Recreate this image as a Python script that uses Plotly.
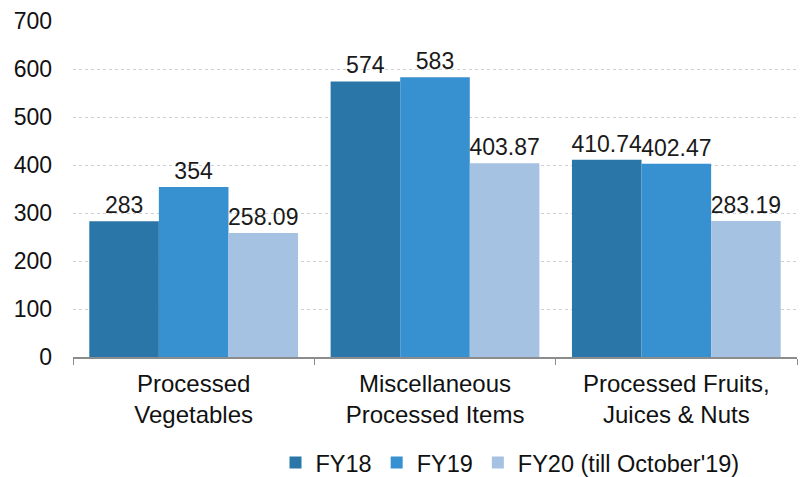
import plotly.graph_objects as go

categories = ["Processed<br>Vegetables", "Miscellaneous<br>Processed Items", "Processed Fruits,<br>Juices & Nuts"]
fy18 = [283, 574, 410.74]
fy19 = [354, 583, 402.47]
fy20 = [258.09, 403.87, 283.19]
labels18 = ["283", "574", "410.74"]
labels19 = ["354", "583", "402.47"]
labels20 = ["258.09", "403.87", "283.19"]
series_names = ["FY18", "FY19", "FY20 (till October'19)"]
colors = ["#2B76A9", "#3791D1", "#A6C2E2"]

FONT = "Liberation Sans, Arial, sans-serif"

fig = go.Figure()
for name, vals, labs, col in zip(series_names, [fy18, fy19, fy20], [labels18, labels19, labels20], colors):
    fig.add_trace(go.Bar(
        x=categories, y=vals, name=name, marker_color=col, marker_line_width=0,
        text=labs, textposition="outside", cliponaxis=False, constraintext="none",
        textfont=dict(size=23, color="#1A1A1A", family=FONT),
    ))

fig.update_layout(
    width=800, height=477,
    margin=dict(l=73, r=3, t=21, b=120, autoexpand=False),
    barmode="group", bargap=0.135, bargroupgap=0,
    plot_bgcolor="white", paper_bgcolor="white",
    font=dict(family=FONT, size=22, color="#111111"),
    showlegend=True,
    legend=dict(orientation="h", xref="container", yref="container",
                x=0.6375, xanchor="center", y=0.03, yanchor="middle",
                font=dict(size=23.5), itemwidth=30, traceorder="normal"),
)
fig.update_yaxes(range=[0, 700], dtick=100, showgrid=True, gridcolor="#D0D0D0", griddash="dot",
                 gridwidth=1, zeroline=False, showline=False, ticks="", ticklabelstandoff=20,
                 tickfont=dict(size=23), automargin=False)
fig.update_xaxes(showline=True, linecolor="#8C8C8C", linewidth=1.5, ticks="outside",
                 tickson="boundaries", ticklen=6, tickcolor="#8C8C8C", tickfont=dict(size=24),
                 ticklabelstandoff=4, automargin=False)

fig.write_html("out.html", config={"displayModeBar": False},
               post_script="document.body.style.margin='0';")
